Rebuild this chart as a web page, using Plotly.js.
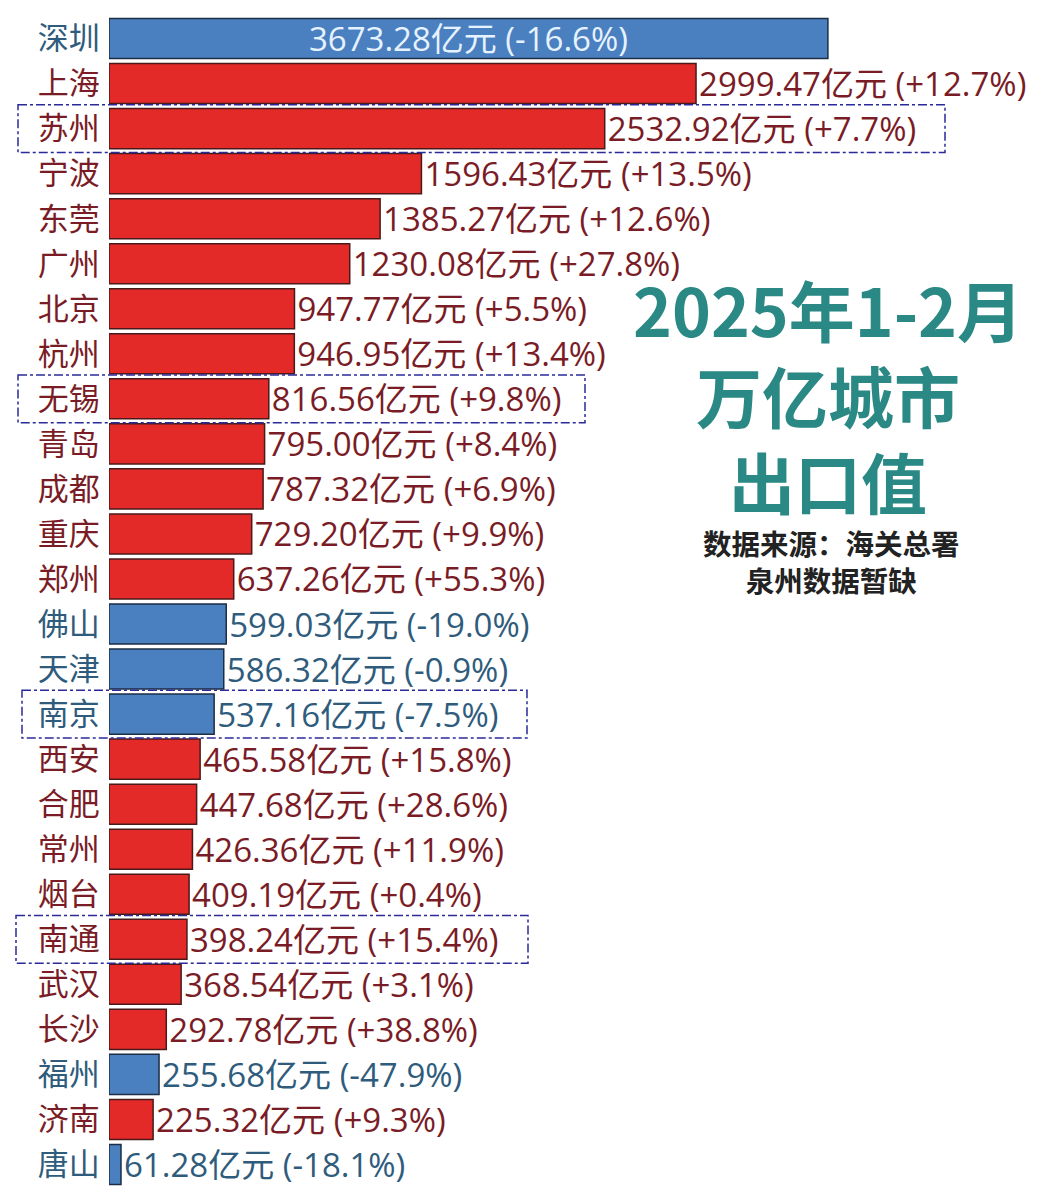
<!DOCTYPE html>
<html><head><meta charset="utf-8">
<script src="https://cdn.plot.ly/plotly-3.0.1.min.js"></script>
<style>body{margin:0;background:#fff}</style>
</head><body><div id="chart" style="width:1049px;height:1195px"></div>
<script>
const cities = ["深圳","上海","苏州","宁波","东莞","广州","北京","杭州","无锡","青岛","成都","重庆","郑州","佛山","天津","南京","西安","合肥","常州","烟台","南通","武汉","长沙","福州","济南","唐山"];
const exports = [3673.28,2999.47,2532.92,1596.43,1385.27,1230.08,947.77,946.95,816.56,795.00,787.32,729.20,637.26,599.03,586.32,537.16,465.58,447.68,426.36,409.19,398.24,368.54,292.78,255.68,225.32,61.28];
const growth = [-16.6,12.7,7.7,13.5,12.6,27.8,5.5,13.4,9.8,8.4,6.9,9.9,55.3,-19.0,-0.9,-7.5,15.8,28.6,11.9,0.4,15.4,3.1,38.8,-47.9,9.3,-18.1];
const boxed = ["苏州","无锡","南京","南通"];
const titleLines = ["2025年1-2月","万亿城市","出口值"];
const noteLines = ["数据来源：海关总署","泉州数据暂缺"];

const RED="#e32a29", BLUE="#4a80bf";
const RED_T="#7a1c26", BLUE_T="#2f5c7c";
const neg = growth.map(g=>g<0);
const labels = exports.map((v,i)=>v.toFixed(2)+"亿元 ("+(growth[i]>=0?"+":"")+growth[i].toFixed(1)+"%)");
const textColors = neg.map((n,i)=> i===0 ? "#e6f2ff" : (n?BLUE_T:RED_T));
const ticktext = cities.map((c,i)=>'<span style="color:'+(neg[i]?BLUE_T:RED_T)+'">'+c+'</span>');

const L=109, W=940, T=16, H=1171;
const px2x = p => (p-L)/W;
const py2y = p => 1-(p-T)/H;

// dotted boxes around Jiangsu cities: [city, left px, right px]
const boxSpec = [["苏州",18,945],["无锡",18,585],["南京",22,527],["南通",16,528]];
const shapes = boxSpec.map(b=>{
  const i = cities.indexOf(b[0]);
  return {type:"rect", xref:"paper", yref:"y", x0:px2x(b[1]), x1:px2x(b[2]), y0:i-0.53, y1:i+0.53,
    line:{color:"#2a2a9a", width:1.5, dash:"dashdot"}, fillcolor:"rgba(0,0,0,0)", layer:"above"};
});

const annotations = [
  {xref:"paper",yref:"paper",x:px2x(828),y:py2y(394),text:titleLines.map(t=>"<b>"+t+"</b>").join("<br>"),
   showarrow:false,xanchor:"center",yanchor:"middle",align:"center",
   font:{family:"Noto Sans CJK SC",size:66,color:"#2b8985"}},
  {xref:"paper",yref:"paper",x:px2x(831),y:py2y(561),text:noteLines.map(t=>"<b>"+t+"</b>").join("<br>"),
   showarrow:false,xanchor:"center",yanchor:"middle",align:"center",
   font:{family:"Noto Sans CJK SC",size:28.5,color:"#222"}}
];

const trace = {
  type:"bar", orientation:"h", y:cities, x:exports,
  marker:{color:neg.map(n=>n?BLUE:RED), line:{color:neg.map(n=>n?"#1c2d45":"#4a1a1a"), width:1.5}},
  text:labels, textposition:cities.map((c,i)=>i===0?"inside":"outside"),
  insidetextanchor:"middle",
  textfont:{family:"Open Sans, Noto Sans CJK SC", size:33, color:textColors},
  constraintext:"none", cliponaxis:false, hoverinfo:"none"
};

const layout = {
  width:1049, height:1195, paper_bgcolor:"#fff", plot_bgcolor:"#fff",
  margin:{l:L, r:0, t:T, b:8},
  bargap:0.11, showlegend:false,
  xaxis:{range:[0,4803], visible:false, fixedrange:true},
  yaxis:{autorange:"reversed", type:"category", tickmode:"array", tickvals:cities, ticktext:ticktext,
    ticks:"outside", ticklen:2, tickcolor:"rgba(0,0,0,0)", showline:false, showgrid:false, zeroline:false,
    tickfont:{family:"Noto Sans CJK SC", size:31}},
  shapes:shapes, annotations:annotations
};
Plotly.newPlot("chart",[trace],layout,{staticPlot:true,displayModeBar:false});
</script></body></html>
